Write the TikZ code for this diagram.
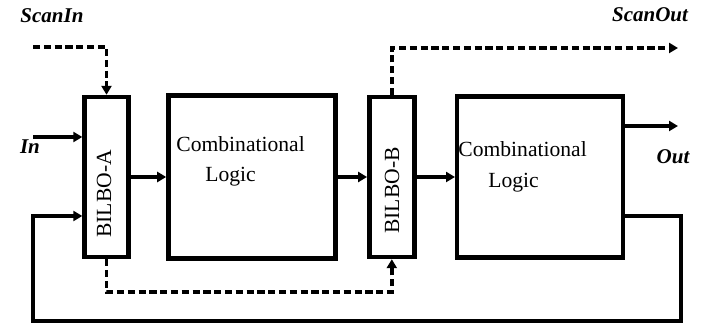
\documentclass[tikz,border=0pt]{standalone}
\usepackage{fontspec}
\setmainfont{Liberation Serif}
\usepackage{tikz}
\usetikzlibrary{arrows.meta, positioning, calc}

\begin{document}
\begin{tikzpicture}[x=0.5pt, y=-0.5pt,
    blk/.style={draw, rectangle, line width=2.2pt, inner sep=0pt},
    sig/.style={line width=1.6pt, -{Triangle[length=4.5pt, width=5pt]}},
    scan/.style={sig, line width=1.8pt, dash pattern=on 3.6pt off 1.8pt},
    pin/.style={font=\fontsize{10.5}{12}\selectfont\bfseries\itshape},
    txt/.style={font=\fontsize{10.8}{13}\selectfont, inner sep=0pt}]
    \useasboundingbox (0,0) rectangle (704,324);

    \node (bilboA) [blk, minimum width=22pt, minimum height=80pt] at (106.5,177) {};
    \node (comb1) [blk, right=17.75pt of bilboA, minimum width=83.5pt, minimum height=81.5pt] {};
    \node (bilboB) [blk, right=14.75pt of comb1, minimum width=22.5pt, minimum height=80pt] {};
    \node (comb2) [blk, right=19.25pt of bilboB, minimum width=83pt, minimum height=80.5pt] {};

    \node (bilboAtxt) [txt, rotate=90] at (104,194) {BILBO-A};
    \node (bilboBtxt) [txt, rotate=90] at (392,190.5) {BILBO-B};
    \node (comb1a) [txt, anchor=base west] at (176,152) {Combinational};
    \node (comb1b) [txt, anchor=base west] at (205,182) {Logic};
    \node (comb2a) [txt, anchor=base west] at (458,157) {Combinational};
    \node (comb2b) [txt, anchor=base west] at (488,188) {Logic};

    \node (scaninlbl) [pin] at (52,16) {ScanIn};
    \node (scanoutlbl) [pin] at (650,15) {ScanOut};
    \node (inlbl) [pin] at (30,147) {In};
    \node (outlbl) [pin] at (673,157) {Out};

    \coordinate (scanin) at (33,47);
    \coordinate (scanout) at (678,48);
    \coordinate (in) at (33,137);
    \coordinate (out) at (678,126);
    \coordinate (chain) at (250,292);
    \coordinate (fbtop) at (681,216);
    \coordinate (fbbot) at (33,321);

    \draw[scan] (scanin) -| (bilboA.north);
    \draw[sig] (in) -- (in -| bilboA.west);
    \draw[sig] (bilboA.east) -- (bilboA.east -| comb1.west);
    \draw[sig] (comb1.east) -- (comb1.east -| bilboB.west);
    \draw[sig] (bilboB.east) -- (bilboB.east -| comb2.west);
    \draw[sig] (out -| comb2.east) -- (out);
    \draw[scan] (bilboB.north) |- (scanout);
    \draw[scan] (bilboA.south) |- (chain) -| (bilboB.south);
    \draw[sig] (fbtop -| comb2.east) -- (fbtop) |- (fbbot) |- (bilboA.west |- fbtop);
\end{tikzpicture}
\end{document}
